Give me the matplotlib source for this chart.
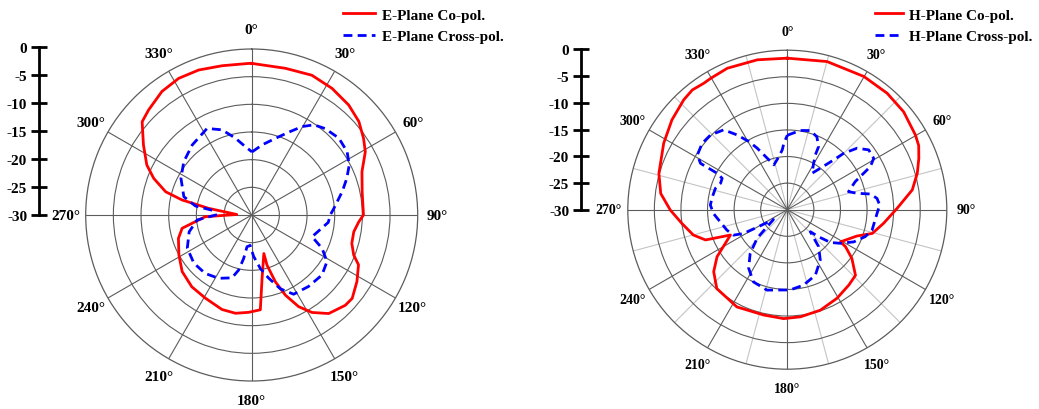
import numpy as np
import matplotlib
matplotlib.use('Agg')
import matplotlib.pyplot as plt

plt.rcParams['font.family'] = ['Liberation Serif', 'DejaVu Serif']
plt.rcParams['font.weight'] = 'bold'
plt.rcParams['axes.unicode_minus'] = False

# E-plane patterns: angle in degrees (clockwise from 0), normalised level in dB
e_co_ang = [0, 12.9, 23.3, 32.4, 41.4, 48.9, 55.6, 60.9, 68.6, 78.1, 90, 93.6, 99.3,
            105.8, 111.4, 115, 122.3, 129.7, 134, 142, 148.3, 152.9, 157.2, 160.5,
            163, 162.5, 170.7, 174.8, 181.8, 189.4, 197.5, 209.1, 219.8, 230.9,
            241.3, 252.3, 259.2, 267.9, 272, 278.8, 282.2, 285.1, 290.5, 295.5,
            302.9, 310.4, 315.5, 324, 331.9, 339.9, 348.8, 358.9, 360]
e_co_db = [-2.6, -2.8, -2.5, -2.9, -3.5, -4.3, -5.5, -6.5, -8.6, -9.6, -9.8, -10.6, -11.3,
           -11.2, -10.2, -8.7, -7.5, -6.4, -6.5, -7.4, -9.3, -11.4, -14.3, -17.2,
           -20.5, -22.7, -18.4, -12.8, -12.4, -12.0, -12.1, -12.8, -13.1, -13.8,
           -15.0, -16.1, -17.2, -21.6, -27.3, -22.1, -17.1, -13.9, -11.1, -9.0,
           -6.7, -4.0, -3.4, -2.4, -2.0, -2.1, -2.5, -2.6, -2.6]

e_cross_ang = [0.3, 8.4, 17.2, 24.1, 29.7, 34.6, 40.4, 48.6, 56.4, 62.9, 69, 75.5, 85.4,
               90, 95.5, 109.8, 115.4, 121.8, 130.5, 141.5, 152.1, 158.8, 165, 170.8,
               177.3, 183, 188.4, 190.5, 193.3, 197.4, 207.5, 218.5, 230.2, 242.7, 255,
               264.8, 270, 276.5, 279.1, 285.1, 297.4, 308.1, 319.6, 332.7, 340.8, 348,
               354.7, 360.3]
e_cross_db = [-18.6, -17.2, -15.5, -13.6, -11.6, -10.2, -9.5, -9.0, -9.3, -10.2, -11.6, -13.1, -15.1,
              -15.8, -16.1, -18.4, -15.9, -14.0, -13.3, -13.5, -13.8, -15.7, -18.2, -20.2,
              -22.5, -24.5, -24.2, -22.0, -19.8, -18.1, -17.1, -16.5, -16.4, -16.9, -18.3,
              -20.1, -23.5, -23.1, -19.7, -17.3, -15.6, -14.4, -13.4, -12.4, -13.7, -15.8,
              -17.6, -18.6]

# H-plane patterns
h_co_ang = [0, 15, 29.9, 40.6, 49.9, 59.7, 64, 68.7, 74.3, 81, 89.3, 98, 105.6, 110.7,
            121.1, 122.5, 127, 133.9, 140.8, 150.7, 161.8, 173, 181.9, 192.7, 207.4,
            216.7, 221.8, 229.9, 236.2, 246, 249.7, 254.9, 262.6, 269.8, 277.3, 285.8,
            298.3, 307.9, 316.7, 321.6, 326.6, 329.7, 337, 348.7, 360]
h_co_db = [-1.5, -1.15, -1.1, -1.15, -1.4, -2.1, -2.5, -3.45, -4.6, -6.2, -9.35, -11.7, -13.4, -16.0,
           -18.3, -17.0, -14.8, -12.2, -11.7, -10.9, -10.1, -9.7, -9.5, -9.7, -9.4,
           -10.0, -10.1, -11.9, -14.1, -18.3, -13.6, -11.7, -10.0, -8.0, -6.0, -4.9,
           -3.6, -2.5, -1.6, -1.25, -1.5, -1.4, -1.1, -1.25, -1.5]

h_cross_ang = [0, 9.3, 16.2, 22.1, 26.4, 27.1, 29.6, 34.2, 38.6, 43, 45, 48.6, 53.7, 59.3,
               62.6, 64.5, 67.6, 73.6, 76.8, 79.3, 82.8, 87.1, 92.3, 103.5, 109.1, 115.8,
               122.4, 127.2, 130.8, 133.7, 139.7, 146.7, 156.8, 167.8, 177.9, 194.2,
               205.1, 213.4, 220.3, 226.6, 234.7, 239.8, 241.5, 244.7, 251.4, 267,
               273.5, 279.8, 286.6, 291.6, 295.7, 297.4, 297.8, 298.1, 301.3, 307.9,
               314.2, 321.5, 326.2, 330.6, 333.9, 336.9, 343.4, 351, 355.2, 357, 360]
h_cross_db = [-16.0, -14.9, -14.5, -15.2, -16.8, -18.4, -20.0, -21.7, -20.0, -17.2, -15.0, -12.5, -11.0, -11.1,
              -12.4, -14.1, -16.2, -18.0, -16.5, -14.1, -13.0, -12.6, -13.1, -13.6, -14.5, -16.1,
              -18.2, -19.8, -22.2, -24.0, -20.9, -18.7, -16.6, -15.5, -14.9, -14.4,
              -15.0, -16.8, -19.2, -22.2, -26.8, -23.4, -20.6, -18.8, -18.0, -16.1,
              -15.5, -15.7, -15.9, -16.5, -16.4, -15.2, -13.3, -11.5, -10.2, -9.7,
              -9.85, -10.8, -13.1, -15.3, -17.1, -18.8, -21.2, -19.9, -18.7, -17.5, -16.0]

angle_marks = list(range(0, 360, 30))
ring_levels = [-25, -20, -15, -10, -5]
scale_levels = [0, -5, -10, -15, -20, -25, -30]

W, H = 1039, 410
fig = plt.figure(figsize=(W / 100, H / 100), dpi=100)

grid_col = '#5c5c5c'
red = '#ff0000'
blue = '#0000ff'
dash = (0, (3.2, 1.9))


def polar_panel(rect, fsize, minor_spokes):
    ax = fig.add_axes(rect, projection='polar')
    ax.set_theta_zero_location('N')
    ax.set_theta_direction(-1)
    ax.set_ylim(-30, 0)
    ax.set_yticks(ring_levels)
    ax.set_yticklabels([])
    ax.set_xticks(np.deg2rad(angle_marks))
    ax.set_xticklabels([])
    ax.grid(True, color=grid_col, linewidth=0.8)
    ax.spines['polar'].set_color(grid_col)
    ax.spines['polar'].set_linewidth(0.9)
    if minor_spokes:
        for a in range(15, 360, 30):
            t = np.deg2rad(a)
            ax.plot([t, t], [-30, 0], color='#c4c4c4', lw=0.8, zorder=1)
    for a in angle_marks:
        ax.text(np.deg2rad(a), 3.6, f'{a}°', ha='center', va='center',
                fontsize=fsize, fontweight='bold')
    return ax


def scale_bar(x_px, top_px, bot_px, fsize):
    sx = fig.add_axes([x_px / W, 1 - bot_px / H, 0.01, (bot_px - top_px) / H])
    sx.set_ylim(-30, 0)
    sx.set_yticks(scale_levels)
    sx.set_yticklabels([str(v) for v in scale_levels])
    for s in ['top', 'right', 'bottom']:
        sx.spines[s].set_visible(False)
    sx.spines['left'].set_linewidth(2)
    sx.set_xticks([])
    sx.tick_params(axis='y', direction='inout', length=11, width=2, pad=3,
                   labelsize=fsize)
    sx.patch.set_visible(False)
    return sx


# E-plane panel
ax1 = polar_panel([85.7 / W, 1 - 382 / H, 332 / W, 332 / H], 11, False)
ax1.plot(np.deg2rad(e_co_ang), e_co_db, color=red, lw=2.0, label='E-Plane Co-pol.')
ax1.plot(np.deg2rad(e_cross_ang), e_cross_db, color=blue, lw=2.0, linestyle=dash,
         label='E-Plane Cross-pol.')
ax1.legend(loc='upper left', bbox_to_anchor=(343 / W, 1 - 9 / H), bbox_transform=fig.transFigure,
           frameon=False, borderpad=0, borderaxespad=0, handlelength=2.1,
           handletextpad=0.45, labelspacing=0.5, fontsize=11)
scale_bar(39, 48, 216, 11)

# H-plane panel
ax2 = polar_panel([627.8 / W, 1 - 370.2 / H, 319 / W, 319 / H], 10, True)
ax2.plot(np.deg2rad(h_co_ang), h_co_db, color=red, lw=2.0, label='H-Plane Co-pol.')
ax2.plot(np.deg2rad(h_cross_ang), h_cross_db, color=blue, lw=2.0, linestyle=dash,
         label='H-Plane Cross-pol.')
ax2.legend(loc='upper left', bbox_to_anchor=(875 / W, 1 - 9 / H), bbox_transform=fig.transFigure,
           frameon=False, borderpad=0, borderaxespad=0, handlelength=1.85,
           handletextpad=0.35, labelspacing=0.5, fontsize=11)
scale_bar(581, 50, 211, 11)

fig.savefig('out.png', dpi=100)
